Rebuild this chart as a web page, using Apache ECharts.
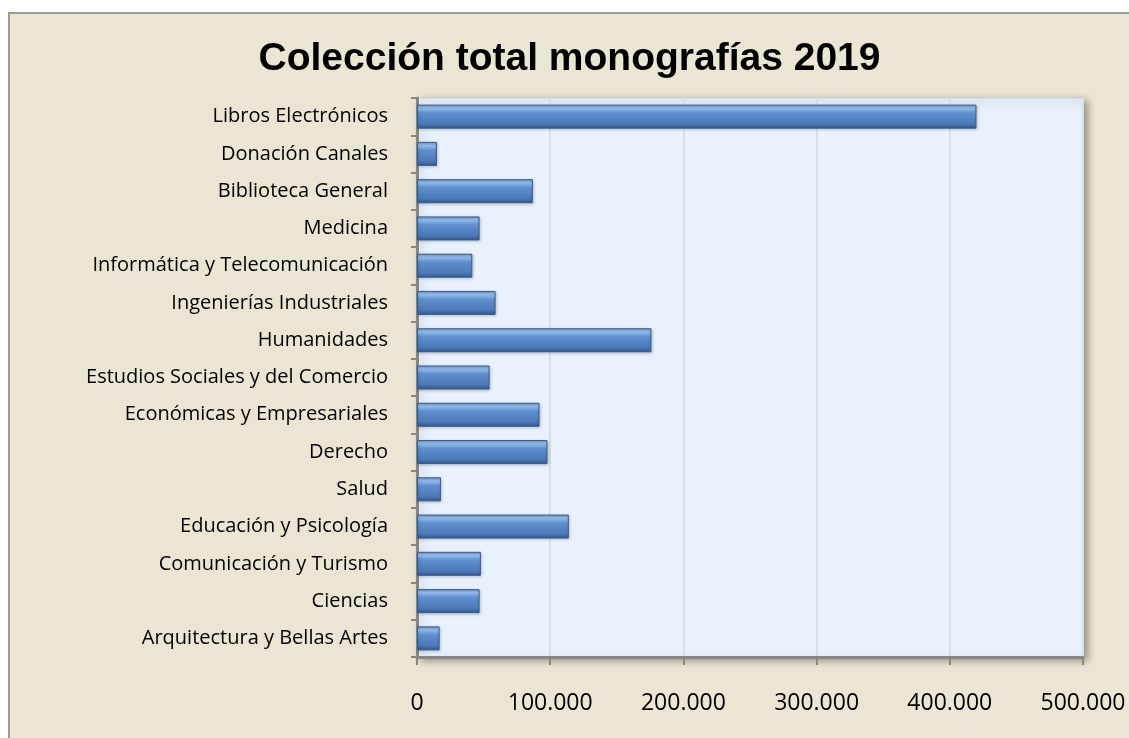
<!DOCTYPE html>
<html>
<head>
<meta charset="utf-8">
<script src="https://cdn.jsdelivr.net/npm/echarts@6/dist/echarts.min.js"></script>
<style>
  html, body { margin: 0; padding: 0; background: #ffffff; }
  #chart {
    position: absolute; left: 8px; top: 12px;
    width: 1121px; height: 726px;
    background: #EAE6D3;
    border-top: 2px solid #9a9a9a;
    border-left: 2px solid #9a9a9a;
    box-sizing: border-box;
  }
</style>
</head>
<body>
<div id="chart"></div>
<script>
// categorias (de arriba hacia abajo)
const categorias = [
  "Libros Electrónicos",
  "Donación Canales",
  "Biblioteca General",
  "Medicina",
  "Informática y Telecomunicación",
  "Ingenierías Industriales",
  "Humanidades",
  "Estudios Sociales y del Comercio",
  "Económicas y Empresariales",
  "Derecho",
  "Salud",
  "Educación y Psicología",
  "Comunicación y Turismo",
  "Ciencias",
  "Arquitectura y Bellas Artes"
];
const monografias = [420000, 15000, 87000, 47000, 41500, 59000, 176000, 54500, 92000, 98000, 18000, 114000, 48000, 47000, 17000];

let myChart = echarts.init(document.getElementById("chart"));

function miles(v) {
  return String(v).replace(/\B(?=(\d{3})+(?!\d))/g, ".");
}

myChart.setOption({
  backgroundColor: "transparent",
  title: {
    text: "Colección total monografías 2019",
    left: "center",
    top: 21,
    textStyle: {
      fontFamily: "Liberation Sans",
      fontWeight: "bold",
      fontSize: 39,
      color: "#000"
    }
  },
  grid: {
    left: 407,
    right: 46,
    top: 84,
    bottom: 81,
    show: true,
    backgroundColor: "#E9F2FC",
    borderColor: "#c9d3de",
    borderWidth: 1,
    shadowColor: "rgba(0,0,0,0.4)",
    shadowBlur: 8,
    shadowOffsetX: 4,
    shadowOffsetY: 3
  },
  xAxis: {
    type: "value",
    min: 0,
    max: 500000,
    interval: 100000,
    axisLine: { show: true, lineStyle: { color: "#868686", width: 3 } },
    axisTick: { show: true, length: 8, lineStyle: { color: "#868686", width: 2 } },
    splitLine: { show: true, lineStyle: { color: "#d6dfe9", width: 2 } },
    axisLabel: {
      formatter: miles,
      margin: 35,
      fontFamily: "Open Sans",
      fontSize: 23,
      color: "#000"
    }
  },
  yAxis: {
    type: "category",
    data: categorias,
    inverse: true,
    axisLine: { show: true, lineStyle: { color: "#868686", width: 3 } },
    axisTick: { show: true, length: 6, lineStyle: { color: "#868686", width: 2 } },
    axisLabel: {
      margin: 29,
      fontFamily: "Open Sans",
      fontSize: 20,
      color: "#000"
    }
  },
  series: [
    {
      name: "Monografías",
      type: "bar",
      data: monografias,
      barWidth: 24,
      animation: false,
      itemStyle: {
        color: new echarts.graphic.LinearGradient(0, 0, 0, 1, [
          { offset: 0, color: "#6f9bd3" },
          { offset: 0.15, color: "#94bdec" },
          { offset: 0.35, color: "#5f8fcf" },
          { offset: 0.8, color: "#4c7ab8" },
          { offset: 1, color: "#34568a" }
        ]),
        borderColor: "#3a5d8c",
        borderWidth: 1,
        shadowColor: "rgba(0,0,0,0.25)",
        shadowBlur: 3,
        shadowOffsetX: 1,
        shadowOffsetY: 1
      }
    }
  ]
});
</script>
</body>
</html>
